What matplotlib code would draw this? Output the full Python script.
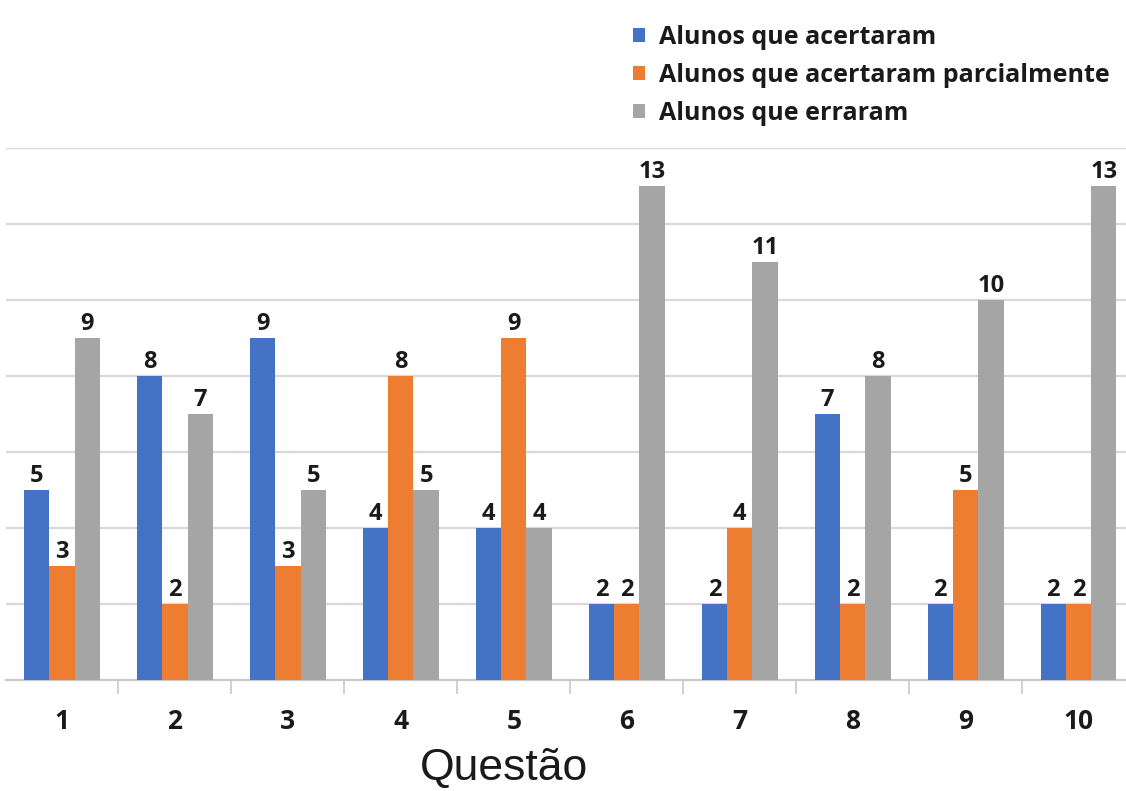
import numpy as np
import matplotlib.pyplot as plt
from matplotlib.patches import Patch

# dados
questoes = ['1', '2', '3', '4', '5', '6', '7', '8', '9', '10']
acertaram = [5, 8, 9, 4, 4, 2, 2, 7, 2, 2]
parcialmente = [3, 2, 3, 8, 9, 2, 4, 2, 5, 2]
erraram = [9, 7, 5, 5, 4, 13, 11, 8, 10, 13]

series = [
    ('Alunos que acertaram', acertaram, '#4472C4'),
    ('Alunos que acertaram parcialmente', parcialmente, '#ED7D31'),
    ('Alunos que erraram', erraram, '#A5A5A5'),
]

fig = plt.figure(figsize=(11.26, 7.91), dpi=100)
ax = fig.add_axes([5.5 / 1126, 111 / 791, 1129.5 / 1126, 532 / 791])

x = np.arange(len(questoes))
largura = 0.224

for i, (nome, valores, cor) in enumerate(series):
    bars = ax.bar(x + (i - 1) * largura, valores, largura, color=cor, label=nome, zorder=3)
    for bar in bars:
        h = bar.get_height()
        ax.text(bar.get_x() + bar.get_width() / 2, h + 0.06, f'{int(h)}',
                ha='center', va='bottom', fontsize=17, fontweight='bold',
                family='Open Sans', color='#1a1a1a', zorder=4,
                bbox=dict(facecolor='white', edgecolor='none', pad=0.3))

ax.set_xlim(-0.5, len(questoes) - 0.5)
ax.set_ylim(0, 14)
ax.set_yticks(np.arange(2, 15, 2))
ax.yaxis.grid(True, color='#d9d9d9', linewidth=1.6, zorder=0)
ax.tick_params(axis='y', left=False, labelleft=False)

ax.set_xticks(x)
ax.set_xticklabels(questoes, fontsize=19, fontweight='bold', family='Open Sans', color='#1a1a1a')
ax.tick_params(axis='x', which='major', length=0, pad=20)
ax.set_xticks(np.arange(0.5, len(questoes) - 0.5, 1), minor=True)
ax.tick_params(axis='x', which='minor', length=10, color='#c8c8c8', width=1.2)

for lado in ['top', 'right', 'left']:
    ax.spines[lado].set_visible(False)
ax.spines['bottom'].set_color('#c8c8c8')
ax.spines['bottom'].set_linewidth(1.6)

fig.text(504 / 1126, 1 - 780 / 791, 'Questão', ha='center', va='baseline',
         fontsize=32, family='Liberation Sans', color='#1a1a1a')

handles = [Patch(facecolor=c, edgecolor='none') for _, _, c in series]
fig.legend(handles, [s[0] for s in series], loc='upper left',
           bbox_to_anchor=(610 / 1126, 1 - 2 / 791), frameon=False,
           prop={'family': 'Open Sans', 'weight': 'bold', 'size': 18},
           handlelength=0.5, handleheight=0.5, handletextpad=0.55,
           labelspacing=0.52, labelcolor='#1a1a1a')

fig.savefig('out.png', dpi=100)
